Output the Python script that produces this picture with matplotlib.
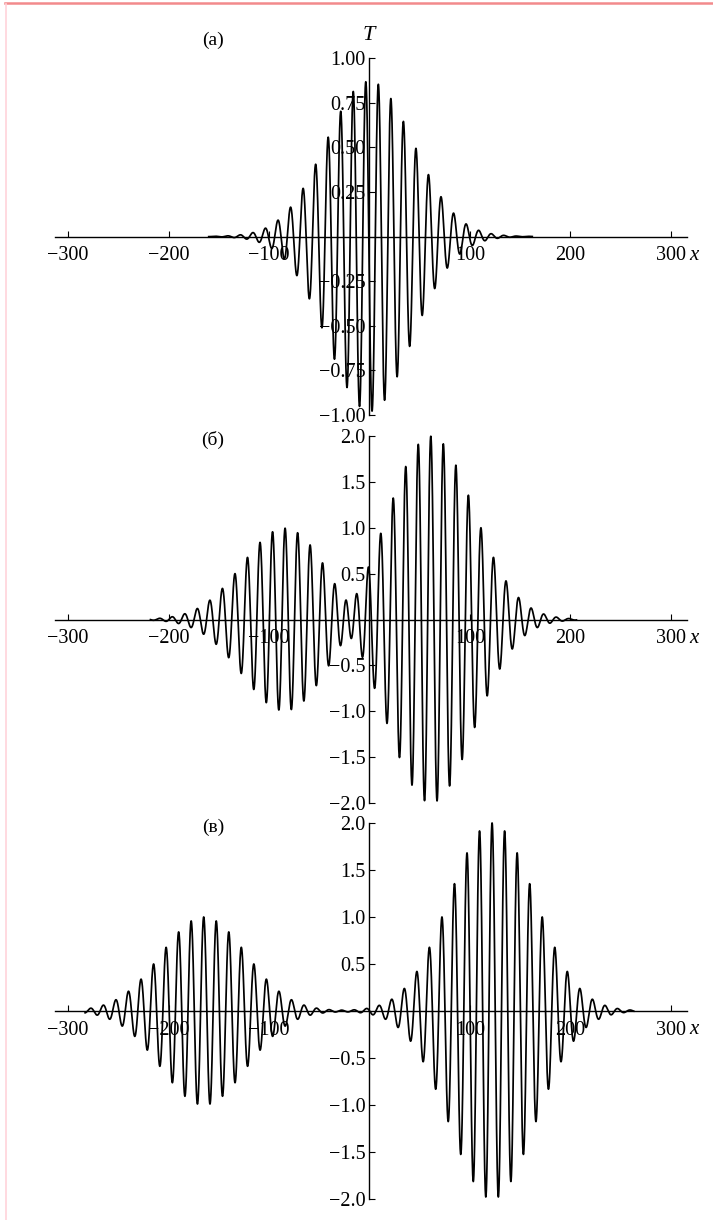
import numpy as np
import matplotlib
matplotlib.use("Agg")
import matplotlib.pyplot as plt
from matplotlib.lines import Line2D

plt.rcParams['font.family'] = ['Liberation Serif', 'DejaVu Serif']

W, H = 713, 1220

# параметры волновых пакетов
wavelength = 12.5
packet_width = 60.0
panel_names = ["(а)", "(б)", "(в)"]
centers = [[0.0], [-84.0, 61.0], [-165.0, 122.0]]
amplitudes = [[0.925], [1.0, 2.0], [1.0, 2.0]]
crests = [[-3.7], [-84.0, 61.0], [-165.0, 122.0]]
offsets = [-0.055, 0.0, 0.0]
x_spans = [(-160, 162), (-218, 206), (-283, 263)]

x_ticks = [-300, -200, -100, 100, 200, 300]
y_ticks_a = [-1.0, -0.75, -0.5, -0.25, 0.25, 0.5, 0.75, 1.0]
y_ticks_bc = [-2.0, -1.5, -1.0, -0.5, 0.5, 1.0, 1.5, 2.0]
y_ticks = [y_ticks_a, y_ticks_bc, y_ticks_bc]
y_formats = ["{:.2f}", "{:.1f}", "{:.1f}"]
y_limits = [1.0, 2.0, 2.0]

# положение панелей в пикселях (верх и низ диапазона по y)
panel_rows = [(58, 415), (436, 803), (823, 1199)]
x_left, x_right = 55, 687
xlim = (-313, 316)


def fx(px):
    return px / W


def fy(py):
    return 1 - py / H


fig = plt.figure(figsize=(W / 100, H / 100), dpi=100)

for i in range(3):
    top, bot = panel_rows[i]
    ax = fig.add_axes([fx(x_left), fy(bot), (x_right - x_left) / W, (bot - top) / H])
    ax.patch.set_visible(False)
    lim = y_limits[i]
    ax.set_xlim(xlim)
    ax.set_ylim(-lim, lim)

    # сумма гауссовых пакетов
    x = np.linspace(x_spans[i][0], x_spans[i][1], 6000)
    T = np.zeros_like(x)
    env_sum = np.zeros_like(x)
    for c, a, cr in zip(centers[i], amplitudes[i], crests[i]):
        env = np.exp(-((x - c) / packet_width) ** 2)
        T += a * env * np.cos(2 * np.pi * (x - cr) / wavelength)
        env_sum += env
    T += offsets[i] * env_sum ** 2
    ax.plot(x, T, color='black', lw=1.25, clip_on=False, zorder=2)

    # оси через начало координат
    for s in ['top', 'right']:
        ax.spines[s].set_visible(False)
    ax.spines['left'].set_position('zero')
    ax.spines['bottom'].set_position('zero')
    ax.spines['left'].set_bounds(-lim, lim)
    for s in ['left', 'bottom']:
        ax.spines[s].set_linewidth(1.0)
        ax.spines[s].set_zorder(3)

    ax.set_xticks(x_ticks)
    ax.set_xticklabels([str(v).replace('-', '\u2212') for v in x_ticks])
    ax.set_yticks(y_ticks[i])
    ax.set_yticklabels([y_formats[i].format(v).replace('-', '\u2212') for v in y_ticks[i]])
    ax.tick_params(direction='in', length=4, width=0.8, labelsize=14.5, colors='black')
    ax.tick_params(axis='x', pad=7)
    ax.tick_params(axis='y', pad=3)

    axis_py = (top + bot) / 2
    fig.text(fx(689), fy(axis_py + 19), "x", style='italic', fontsize=15,
             ha='left', va='center')
    fig.text(fx(213), fy(top - 18 if i == 0 else top + 4), panel_names[i],
             fontsize=14, ha='center', va='center')

fig.text(fx(369), fy(35), "T", style='italic', fontsize=16, ha='center', va='center')

# рамка страницы
fig.add_artist(Line2D([fx(5), 1], [fy(2.5), fy(2.5)], color='#f28a8c', lw=1.8))
fig.add_artist(Line2D([fx(6), fx(6)], [fy(4), 0], color='#ffd3da', lw=1.2))

fig.savefig("out.png", dpi=100)
